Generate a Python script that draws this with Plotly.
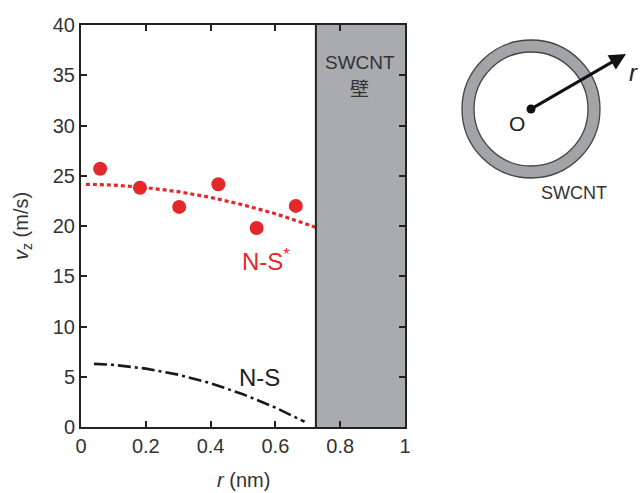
import plotly.graph_objects as go

W, H = 642, 493

# Simulated axial velocity of water inside the SWCNT (red points)
r_md = [0.059, 0.182, 0.303, 0.424, 0.542, 0.663]
v_md = [25.7, 23.8, 21.9, 24.15, 19.8, 22.0]

# Navier-Stokes profile with slip (N-S*) and no-slip profile (N-S)
r_nss = [0.015, 0.1, 0.2, 0.3, 0.4, 0.5, 0.6, 0.725]
v_nss = [24.15, 24.07, 23.82, 23.42, 22.85, 22.11, 21.22, 19.87]
r_ns = [0.04, 0.1, 0.2, 0.3, 0.4, 0.5, 0.6, 0.69]
v_ns = [6.28, 6.18, 5.81, 5.21, 4.36, 3.26, 1.93, 0.52]

wall_r = [0.725, 1.0]
x_ticks = [0, 0.2, 0.4, 0.6, 0.8, 1]
x_ticklabels = ["0", "0.2", "0.4", "0.6", "0.8", "1"]
y_ticks = [0, 5, 10, 15, 20, 25, 30, 35, 40]

RED = "#e2282a"
INK = "#333333"
FONT = "Liberation Sans, Arial, sans-serif"

# plot area in pixels
px0, px1 = 81, 405
py0, py1 = 25, 427

fig = go.Figure()

fig.add_trace(go.Scatter(
    x=r_nss, y=v_nss, mode="lines",
    line=dict(color=RED, width=3.2, dash="4px,3px"),
    hoverinfo="skip", showlegend=False))
fig.add_trace(go.Scatter(
    x=r_ns, y=v_ns, mode="lines",
    line=dict(color="#1a1a1a", width=2.6, dash="13px,4px,3px,4px"),
    hoverinfo="skip", showlegend=False))
fig.add_trace(go.Scatter(
    x=r_md, y=v_md, mode="markers",
    marker=dict(color=RED, size=14, line=dict(width=0)),
    showlegend=False))

# invisible pixel-unit axes for the cross-section sketch
dx0 = 430
fig.add_trace(go.Scatter(x=[dx0, W], y=[0, H], mode="markers",
                         marker=dict(opacity=0), xaxis="x2", yaxis="y2",
                         hoverinfo="skip", showlegend=False))

axis_common = dict(
    showline=True, linecolor="#222", linewidth=2, mirror="ticks",
    ticks="inside", ticklen=6, tickwidth=2, tickcolor="#222",
    showgrid=False, zeroline=False, automargin=False,
    tickfont=dict(family=FONT, size=20, color=INK),
)

fig.update_layout(
    width=W, height=H,
    margin=dict(l=0, r=0, t=0, b=0, pad=0, autoexpand=False),
    paper_bgcolor="white", plot_bgcolor="white",
    xaxis=dict(domain=[px0 / W, px1 / W], range=[0, 1],
               tickvals=x_ticks, ticktext=x_ticklabels, **axis_common),
    yaxis=dict(domain=[(H - py1) / H, (H - py0) / H], range=[0, 40],
               tickvals=y_ticks, **axis_common),
    xaxis2=dict(domain=[dx0 / W, 1], range=[dx0, W], visible=False,
                anchor="y2", automargin=False),
    yaxis2=dict(domain=[0, 1], range=[H, 0], visible=False, anchor="x2",
                automargin=False),
)

shapes = [
    # SWCNT wall band
    dict(type="rect", xref="x", yref="y", x0=wall_r[0], x1=wall_r[1],
         y0=0, y1=40, fillcolor="#aaabae", line=dict(width=0), layer="below"),
    dict(type="line", xref="x", yref="y", x0=wall_r[0], x1=wall_r[0],
         y0=0, y1=40, line=dict(color="#222", width=2)),
]

# cross-section: ring of the nanotube
cx, cy, ro, ri = 531, 109, 69, 57
shapes += [
    dict(type="circle", xref="x2", yref="y2",
         x0=cx - ro, x1=cx + ro, y0=cy - ro, y1=cy + ro,
         fillcolor="#a3a4a7", line=dict(color="#444", width=1.3)),
    dict(type="circle", xref="x2", yref="y2",
         x0=cx - ri, x1=cx + ri, y0=cy - ri, y1=cy + ri,
         fillcolor="white", line=dict(color="#444", width=1.3)),
    dict(type="circle", xref="x2", yref="y2",
         x0=cx - 4.5, x1=cx + 4.5, y0=cy - 4.5, y1=cy + 4.5,
         fillcolor="#111", line=dict(width=0)),
]
fig.update_layout(shapes=shapes)

ann = [
    dict(x=0.86, y=36.3, xref="x", yref="y", text="SWCNT", showarrow=False,
         font=dict(family=FONT, size=19, color=INK)),
    dict(x=0.86, y=33.8, xref="x", yref="y", text="壁", showarrow=False,
         font=dict(family="Noto Sans CJK JP", size=19, color=INK)),
    dict(x=0.57, y=16.6, xref="x", yref="y", text="N-S<sup>*</sup>",
         showarrow=False, font=dict(family=FONT, size=24, color=RED)),
    dict(x=0.55, y=4.9, xref="x", yref="y", text="N-S", showarrow=False,
         font=dict(family=FONT, size=24, color="#222")),
    # axis titles
    dict(x=(px0 + px1) / 2 / W, y=(H - 480) / H, xref="paper", yref="paper",
         xanchor="center", yanchor="middle",
         text="<i>r</i> (nm)", showarrow=False,
         font=dict(family=FONT, size=20, color=INK)),
    dict(x=22 / W, y=(H - 226) / H, xref="paper", yref="paper",
         xanchor="center", yanchor="middle",
         text="<i>v</i><sub>z</sub> (m/s)", showarrow=False, textangle=-90,
         font=dict(family=FONT, size=20, color=INK)),
    # sketch labels
    dict(x=626, y=54, ax=cx, ay=cy, xref="x2", yref="y2",
         axref="x2", ayref="y2", text="", showarrow=True,
         arrowhead=2, arrowsize=1.1, arrowwidth=3, arrowcolor="#111",
         standoff=0),
    dict(x=633, y=72, xref="x2", yref="y2", text="<i>r</i>",
         showarrow=False, font=dict(family=FONT, size=24, color="#222")),
    dict(x=517, y=123, xref="x2", yref="y2", text="O",
         showarrow=False, font=dict(family=FONT, size=21, color="#222")),
    dict(x=574, y=193, xref="x2", yref="y2", text="SWCNT",
         showarrow=False, font=dict(family=FONT, size=18, color=INK)),
]
fig.update_layout(annotations=ann)

fig.write_html("out.html")
